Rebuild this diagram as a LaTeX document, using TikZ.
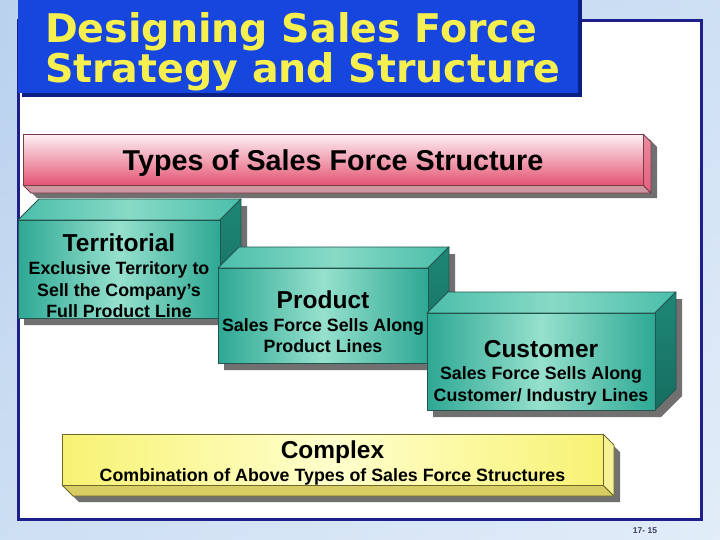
\documentclass[tikz,border=0pt]{standalone}
\usepackage{fontspec}
\setmainfont{Liberation Sans}
\newfontfamily\titlefont{DejaVu Sans}
\definecolor{bgA}{RGB}{186,210,238}
\definecolor{bgB}{RGB}{226,237,249}
\definecolor{navy}{RGB}{30,30,140}
\definecolor{titleblue}{RGB}{22,70,222}
\definecolor{titleshadow}{RGB}{10,32,130}
\definecolor{titleyellow}{RGB}{245,240,80}
\definecolor{pinktop}{RGB}{253,240,244}
\definecolor{pinkbot}{RGB}{228,85,115}
\definecolor{pinkside}{RGB}{234,140,160}
\definecolor{pinkbf}{RGB}{205,150,160}
\definecolor{pinkline}{RGB}{120,60,75}
\definecolor{yfront}{RGB}{247,242,115}
\definecolor{ylight}{RGB}{255,255,205}
\definecolor{yside}{RGB}{246,241,150}
\definecolor{ybottom}{RGB}{215,205,100}
\definecolor{yline}{RGB}{110,105,40}
\definecolor{tfront}{RGB}{45,168,148}
\definecolor{tlight}{RGB}{150,225,205}
\definecolor{ttop}{RGB}{75,190,170}
\definecolor{ttoplight}{RGB}{135,218,198}
\definecolor{tside}{RGB}{30,135,118}
\definecolor{tsidedark}{RGB}{22,110,96}
\definecolor{tline}{RGB}{35,85,78}
\definecolor{shadowgrey}{RGB}{112,112,112}
\definecolor{pagenum}{RGB}{60,60,95}
% teal box: #1 x-left, #2 y-top, #3 x-right, #4 y-bottom (front face), depth 21 up-right
\newcommand\tealblock[4]{%
  \fill[shadowgrey] (#1+6,#2+7) -- (#1+27,#2-14) -- (#3+27,#2-14) -- (#3+27,#4-14) -- (#3+6,#4+7) -- (#1+6,#4+7) -- cycle;
  \shade[left color=ttop, right color=ttop, middle color=ttoplight, facedraw]
    (#1,#2) -- (#1+21,#2-21) -- (#3+21,#2-21) -- (#3,#2) -- cycle;
  \shade[top color=tside, bottom color=tsidedark, facedraw]
    (#3,#2) -- (#3+21,#2-21) -- (#3+21,#4-21) -- (#3,#4) -- cycle;
  \shade[left color=tfront, right color=tfront, middle color=tlight, facedraw]
    (#1,#2) rectangle (#3,#4);
}
\begin{document}
\begin{tikzpicture}[x=1pt,y=-1pt,
  facedraw/.style={draw=tline, line width=0.8pt, line join=round},
  ttl/.style={font=\bfseries\fontsize{24.5}{28}\selectfont, inner sep=0pt, anchor=base},
  dsc/.style={font=\bfseries\fontsize{17.8}{20}\selectfont, inner sep=0pt, anchor=base},
  headline/.style={font=\titlefont\bfseries\fontsize{39.5}{44}\selectfont, text=titleyellow, inner sep=0pt, anchor=base west}]
\useasboundingbox (0,0) rectangle (720,539);
% background
\shade[top color=bgA, bottom color=bgB] (0,0) rectangle (720,539);
\shade[left color=bgA, right color=bgB, opacity=0.5] (0,0) rectangle (720,539);
% panel
\fill[white] (18,20) rectangle (701,519);
\draw[navy, line width=3pt] (18,20) rectangle (701,519);
% title box
\fill[titleshadow] (22,0) rectangle (582,97);
\fill[titleblue] (18,0) rectangle (578,93);
\node[headline] (h1) at (45,42) {Designing Sales Force};
\node[headline] (h2) at (45,82) {Strategy and Structure};
% pink bar
\fill[shadowgrey] (29,139) -- (649,139) -- (657,147) -- (657,198) -- (37,198) -- (29,190) -- cycle;
\fill[pinkbf, draw=pinkline, line width=0.8pt, line join=round] (23,185) -- (643,185) -- (651,193) -- (31,193) -- cycle;
\shade[top color=pinkside, bottom color=pinkbot!80!pinkside, draw=pinkline, line width=0.8pt, line join=round] (643,134) -- (651,142) -- (651,193) -- (643,185) -- cycle;
\shade[top color=pinktop, bottom color=pinkbot, draw=pinkline, line width=0.8pt] (23,134) rectangle (643,185);
\node[font=\bfseries\fontsize{28.7}{32}\selectfont, inner sep=0pt, anchor=base] (types) at (333,170) {Types of Sales Force Structure};
% teal blocks
\tealblock{18}{220}{220}{318}
\node[ttl] (terr) at (119,251) {Territorial};
\node[dsc] (terr1) at (119,274) {Exclusive Territory to};
\node[dsc] (terr2) at (119,296) {Sell the Company’s};
\node[dsc] (terr3) at (119,317) {Full Product Line};
\tealblock{218}{268}{428}{363}
\node[ttl] (prod) at (323,308) {Product};
\node[dsc] (prod1) at (323,331) {Sales Force Sells Along};
\node[dsc] (prod2) at (323,352) {Product Lines};
\tealblock{427}{313}{655}{410}
\node[ttl] (cust) at (541,357) {Customer};
\node[dsc] (cust1) at (541,379) {Sales Force Sells Along};
\node[dsc] (cust2) at (541,401) {Customer/ Industry Lines};
% yellow bar
\fill[shadowgrey] (68,441) -- (609,441) -- (620,452) -- (620,502) -- (79,502) -- (68,491) -- cycle;
\fill[ybottom, draw=yline, line width=0.8pt, line join=round] (62,485) -- (603,485) -- (614,496) -- (73,496) -- cycle;
\fill[yside, draw=yline, line width=0.8pt, line join=round] (603,434) -- (614,445) -- (614,496) -- (603,485) -- cycle;
\shade[left color=yfront, right color=yfront, middle color=ylight, draw=yline, line width=0.8pt] (62,434) rectangle (603,485);
\node[ttl] (cplx) at (332.5,458) {Complex};
\node[dsc] (cplx1) at (332.5,481) {Combination of Above Types of Sales Force Structures};
% page number
\node[font=\bfseries\fontsize{8.5}{10}\selectfont, text=pagenum, inner sep=0pt] (pg) at (645,531) {17- 15};
\end{tikzpicture}
\end{document}
